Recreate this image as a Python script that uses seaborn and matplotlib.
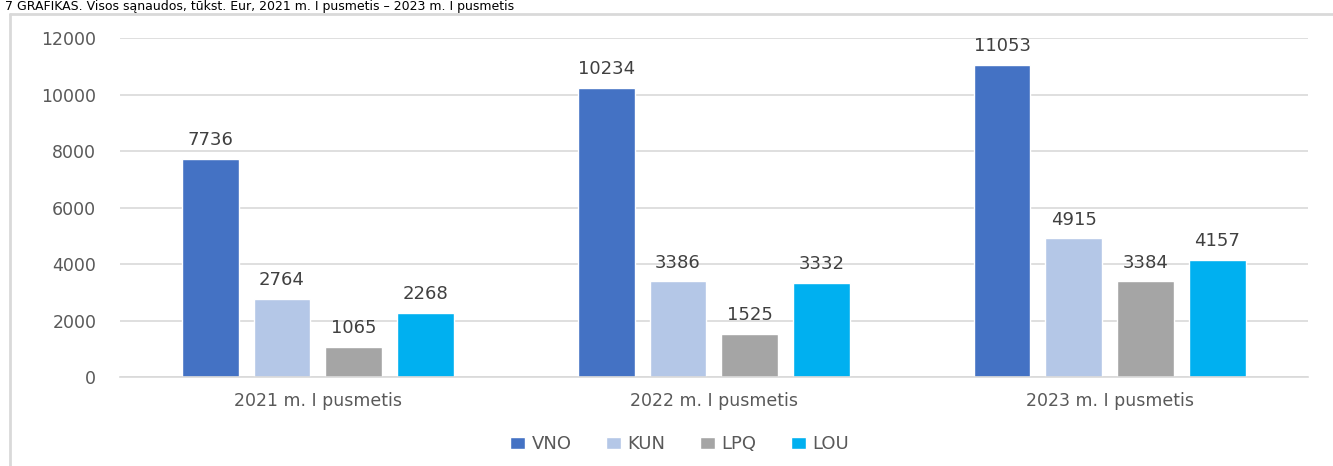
import pandas as pd
import matplotlib.pyplot as plt
import seaborn as sns
from matplotlib.lines import Line2D

# duomenys (tukst. Eur)
periods = ['2021 m. I pusmetis', '2022 m. I pusmetis', '2023 m. I pusmetis']
airports = ['VNO', 'KUN', 'LPQ', 'LOU']
vno = [7736, 10234, 11053]
kun = [2764, 3386, 4915]
lpq = [1065, 1525, 3384]
lou = [2268, 3332, 4157]
colors = ['#4472C4', '#B4C7E7', '#A5A5A5', '#00B0F0']

rows = []
for name, vals in zip(airports, [vno, kun, lpq, lou]):
    for p, v in zip(periods, vals):
        rows.append({'Laikotarpis': p, 'Oro uostas': name, 'Suma': v})
df = pd.DataFrame(rows)

sns.set_style('white')
plt.rcParams['font.family'] = ['DejaVu Sans']

fig = plt.figure(figsize=(13.33, 4.66), dpi=100)
ax = fig.add_axes([0.09, 0.191, 0.891, 0.727])

sns.barplot(data=df, x='Laikotarpis', y='Suma', hue='Oro uostas',
            palette=colors, width=0.725, gap=0.21, saturation=1,
            ax=ax, legend=True)

for cont in ax.containers:
    ax.bar_label(cont, padding=7, fontsize=13, color='#404040')

ax.set_ylim(0, 12000)
ax.set_yticks(range(0, 12001, 2000))
ax.yaxis.grid(True, color='#D9D9D9', linewidth=1.2)
ax.set_axisbelow(True)
for s in ax.spines.values():
    s.set_visible(False)
ax.spines['bottom'].set_visible(True)
ax.spines['bottom'].set_color('#D9D9D9')
ax.spines['bottom'].set_linewidth(1.2)
ax.set_xlabel('')
ax.set_ylabel('')
ax.tick_params(axis='both', length=0, labelsize=12.5, labelcolor='#595959')
ax.tick_params(axis='y', pad=17)
ax.tick_params(axis='x', pad=11)

ax.legend(loc='center', bbox_to_anchor=(0.471, -0.198), ncol=4, frameon=False,
          fontsize=13, handlelength=0.85, handleheight=0.65, columnspacing=1.9,
          handletextpad=0.35, labelcolor='#595959')

# antraste
fig.text(0.004, 1 - 10 / 466, '7 GRAFIKAS. Visos sąnaudos, tūkst. Eur, 2021 m. I pusmetis – 2023 m. I pusmetis',
         fontsize=9, color='black', va='baseline', ha='left')

# remelis
fig.add_artist(Line2D([10 / 1333, 1], [1 - 14 / 466, 1 - 14 / 466], color='#D9D9D9', linewidth=2,
                      transform=fig.transFigure))
fig.add_artist(Line2D([10 / 1333, 10 / 1333], [0, 1 - 14 / 466], color='#D9D9D9', linewidth=2,
                      transform=fig.transFigure))

fig.savefig('out.png', dpi=100)
